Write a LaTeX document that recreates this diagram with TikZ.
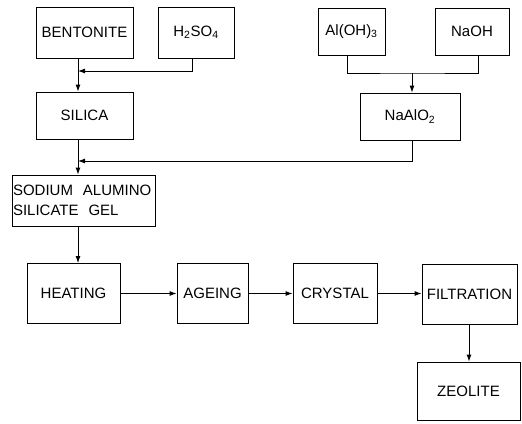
\documentclass[tikz,border=0pt]{standalone}
\usepackage{fontspec}
\setmainfont{Liberation Sans}
\usetikzlibrary{arrows.meta}

\begin{document}
\begin{tikzpicture}[x=1pt, y=-1pt, b/.style={draw, line width=0.9pt, inner sep=0pt, font=\fontsize{15}{20}\selectfont}, >={Latex[length=7pt,width=5pt]}, line width=0.9pt]
\useasboundingbox (0,0) rectangle (522,423);
% feed materials
\node[b, minimum width=97, minimum height=51] (bent) at (84.5,32.5) {BENTONITE};
\node[b, minimum width=76, minimum height=51] (acid) at (196,32.5) {H\textsubscript{2}SO\textsubscript{4}};
\node[b, minimum width=67, minimum height=47] (aloh) at (351.5,31.5) {Al(OH)\textsubscript{3}};
\node[b, minimum width=74, minimum height=47] (naoh) at (472,31.5) {NaOH};
\node[b, minimum width=97, minimum height=47] (silica) at (84.5,115.5) {SILICA};
\node[b, minimum width=100, minimum height=47] (naalo) at (410,116.5) {NaAlO\textsubscript{2}};
\node[b, minimum width=143, minimum height=51, text width=141, align=left] (gel) at (83.5,200.5) {SODIUM\ \ ALUMINO\\SILICATE\ \ GEL};
% process line
\node[b, minimum width=93, minimum height=60] (heat) at (73.5,293.5) {HEATING};
\node[b, minimum width=71, minimum height=60] (age) at (212.5,293.5) {AGEING};
\node[b, minimum width=84, minimum height=60] (cryst) at (335,293.5) {CRYSTAL};
\node[b, minimum width=95, minimum height=60] (filt) at (469.5,294.5) {FILTRATION};
\node[b, minimum width=103, minimum height=58] (zeo) at (468.5,391) {ZEOLITE};
% junctions
\coordinate (j1) at (78,71);
\coordinate (j2) at (412,73);
\coordinate (j3) at (78,161);
\draw[->] (bent.south -| j1) -- (silica.north -| j1);
\draw[->] ([xshift=-4]acid.south) |- (j1);
\draw ([xshift=-4]aloh.south) |- (j2) -| ([xshift=6]naoh.south);
\draw[->] (j2) -- (naalo.north -| j2);
\draw[->] (silica.south -| j1) -- (gel.north -| j1);
\draw[->] (naalo.south -| j2) |- (j3);
\draw[->] (gel.south -| j1) -- (heat.north -| j1);
\draw[->] (heat) -- (age);
\draw[->] (age) -- (cryst);
\draw[->] (cryst.east) -- (cryst.east -| filt.west);
\draw[->] (filt.south -| 469,0) -- (zeo.north -| 469,0);
\end{tikzpicture}
\end{document}
